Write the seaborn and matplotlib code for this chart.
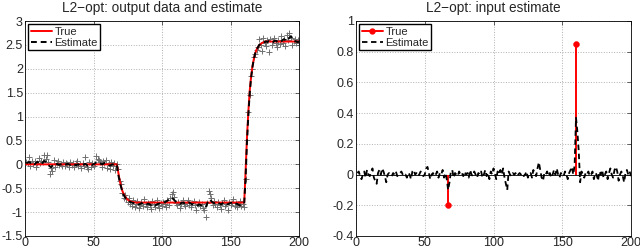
import numpy as np
import pandas as pd
import matplotlib
matplotlib.use("Agg")
import matplotlib.pyplot as plt
from matplotlib.lines import Line2D
import seaborn as sns

# sample index
k = np.arange(1, 201)

# measured output (grey + markers)
y_data = [
    0.05, 0.02, 0.15, -0.03, 0.06, 0.01, 0.08, -0.05, 0.03, 0.14,
    0.02, 0.07, 0.04, 0.19, 0.12, 0.2, 0.05, -0.21, -0.08, -0.14,
    0.1, -0.05, 0.03, 0.08, -0.02, 0.01, -0.04, 0.05, -0.03, 0.02,
    0.0, -0.06, 0.04, -0.02, 0.03, -0.05, 0.02, 0.06, -0.04, 0.0,
    -0.07, 0.03, -0.03, 0.15, -0.05, -0.09, 0.04, -0.06, 0.02, -0.03,
    0.01, 0.18, 0.12, 0.1, 0.05, -0.05, 0.07, 0.02, 0.09, -0.08,
    0.03, -0.1, 0.05, -0.04, 0.02, -0.12, 0.01,
    -0.1, -0.35, -0.42, -0.6, -0.7, -0.65, -0.72, -0.78, -0.7, -0.82, -0.88, -0.75, -0.9,
    -0.83, -0.76, -0.92, -0.85, -0.78, -0.88, -0.72, -0.84, -0.9, -0.8,
    -0.86, -0.93, -0.77, -0.82, -0.89, -0.75, -0.85, -0.91, -0.8, -0.87,
    -0.78, -0.83, -0.9, -0.74, -0.85, -0.7, -0.62, -0.58, -0.68, -0.8,
    -0.86, -0.79, -0.92, -0.84, -0.75, -0.82, -0.88, -0.8, -0.74, -0.85,
    -0.9, -0.81, -0.77, -0.86, -0.95, -0.83, -0.78, -0.88, -0.82, -0.92,
    -0.96, -1.1, -0.8, -0.56, -0.62, -0.7, -0.85, -0.76, -0.82, -0.89,
    -0.78, -0.85, -0.93, -0.8, -0.74, -0.88, -0.83, -0.95, -0.79, -0.86,
    -0.8, -0.72, -0.87, -0.81, -0.9, -0.84, -0.76, -0.88, -0.82,
    -0.9, -0.3, 0.5, 1.1, 1.45, 1.85, 2.0, 2.25, 2.3, 2.4,
    2.45, 2.62, 2.5, 2.38, 2.65, 2.55, 2.48, 2.6, 2.35, 2.62,
    2.5, 2.58, 2.65, 2.55, 2.45, 2.6, 2.52, 2.68, 2.55, 2.62,
    2.48, 2.7, 2.6, 2.75, 2.65, 2.5, 2.58, 2.62, 2.55, 2.6, 2.57,
]

# true output (red)
y_true = ([0.0] * 67
          + [-0.15, -0.32, -0.45, -0.55, -0.62, -0.67, -0.71, -0.74, -0.76,
             -0.775, -0.785, -0.79, -0.795]
          + [-0.8] * 79
          + [-0.8, -0.16, 0.55, 1.09, 1.53, 1.83, 2.05, 2.2, 2.32, 2.4,
             2.45, 2.49, 2.52, 2.54, 2.555, 2.565]
          + [2.57] * 25)

# estimated output (black dashed)
y_est = [
    0.02, 0.04, 0.05, 0.03, 0.05, 0.02, 0.0, 0.03, 0.05, 0.04,
    0.02, 0.0, 0.04, 0.07, 0.06, 0.03, -0.01, -0.04, -0.06, -0.03,
    0.0, 0.02, 0.01, 0.0, -0.01, 0.0, 0.01, 0.0, -0.01, 0.0,
    0.01, 0.0, -0.01, 0.0, 0.01, 0.0, -0.02, -0.01, 0.0, -0.02,
    -0.03, -0.02, 0.0, 0.01, -0.01, -0.03, -0.02, 0.0, -0.01, 0.0,
    0.02, 0.04, 0.05, 0.03, 0.02, 0.0, 0.01, 0.03, 0.02, 0.0,
    -0.02, -0.03, -0.01, 0.0, -0.02, -0.04, -0.02,
    -0.2, -0.35, -0.46, -0.56, -0.64, -0.69, -0.72, -0.75, -0.77, -0.79, -0.8, -0.81, -0.82,
    -0.83, -0.82, -0.84, -0.83, -0.81, -0.82, -0.8, -0.81, -0.83, -0.82,
    -0.84, -0.85, -0.83, -0.84, -0.86, -0.84, -0.83, -0.82, -0.83, -0.81,
    -0.8, -0.79, -0.78, -0.76, -0.74, -0.72, -0.7, -0.72, -0.75, -0.78,
    -0.8, -0.82, -0.83, -0.81, -0.8, -0.81, -0.82, -0.8, -0.79, -0.8,
    -0.82, -0.84, -0.83, -0.85, -0.87, -0.86, -0.84, -0.85, -0.86, -0.88,
    -0.9, -0.89, -0.82, -0.75, -0.74, -0.77, -0.8, -0.81, -0.8, -0.82,
    -0.81, -0.82, -0.84, -0.82, -0.8, -0.81, -0.83, -0.84, -0.82, -0.81,
    -0.8, -0.79, -0.8, -0.82, -0.83, -0.85, -0.86, -0.85, -0.84,
    -0.82, -0.3, 0.45, 1.02, 1.48, 1.8, 2.03, 2.2, 2.32, 2.4,
    2.45, 2.5, 2.52, 2.54, 2.55, 2.56,
    2.57, 2.56, 2.58, 2.57, 2.55, 2.56, 2.58, 2.59, 2.57, 2.56,
    2.55, 2.57, 2.6, 2.62, 2.6, 2.58, 2.62, 2.65, 2.68, 2.65,
    2.6, 2.58, 2.57, 2.56, 2.57,
]

# true input (two impulses)
u_true_k = [67, 160]
u_true = [-0.2, 0.85]

# estimated input
u_est = [
    0.01, 0.02, -0.01, -0.03, 0.0, 0.02, -0.02, 0.03, 0.0, -0.01,
    0.02, 0.04, -0.02, -0.04, -0.06, 0.01, 0.03, 0.0, 0.04, 0.02,
    -0.01, -0.05, 0.0, 0.01, 0.0, -0.01, 0.01, 0.0, 0.02, -0.01,
    0.0, 0.01, 0.02, 0.0, -0.01, 0.0, -0.02, 0.01, 0.0, -0.03,
    0.02, 0.03, 0.0, 0.01, -0.01, 0.0, 0.02, 0.0, -0.01, 0.0,
    0.04, 0.05, 0.01, -0.03, 0.0, 0.01, -0.01, 0.0, 0.02, -0.02,
    0.01, 0.0, 0.03, -0.02, 0.01, -0.03, -0.1, -0.05, 0.02, 0.03,
    -0.02, 0.01, 0.0, -0.01, 0.02, 0.0, 0.01, -0.01, 0.02, 0.0,
    0.01, -0.02, 0.03, 0.0, -0.01, 0.02, 0.0, -0.02, 0.01, 0.0,
    0.02, -0.02, 0.0, 0.03, -0.01, 0.01, -0.03, 0.02, 0.0, 0.04,
    0.01, -0.03, 0.02, 0.0, 0.03, 0.0, 0.04, -0.02, -0.06, -0.1,
    0.02, 0.0, -0.01, 0.01, 0.0, 0.01, -0.01, 0.0, 0.01, 0.0,
    0.01, -0.01, 0.0, 0.02, -0.02, 0.0, 0.01, -0.02, 0.03, 0.0,
    -0.01, 0.04, 0.08, 0.03, -0.02, -0.04, 0.01, 0.0, 0.02, -0.01,
    0.01, -0.02, 0.0, 0.03, 0.0, 0.04, 0.0, -0.02, 0.01, 0.0,
    -0.01, 0.02, 0.0, -0.03, 0.01, 0.03, 0.05, 0.0, 0.06, 0.37,
    0.28, 0.15, -0.05, 0.02, 0.0, -0.02, 0.01, 0.0, 0.02, -0.01,
    0.0, 0.02, -0.03, 0.01, 0.0, -0.04, 0.02, 0.0, 0.03, -0.02,
    0.0, 0.02, -0.03, 0.01, 0.04, 0.0, -0.02, 0.03, 0.05, 0.02,
    -0.04, 0.0, 0.02, -0.01, -0.05, 0.01, 0.03, 0.0, 0.02, -0.01,
]

sns.set_style("white")
plt.rcParams['font.family'] = ['Liberation Sans', 'DejaVu Sans']

df = pd.DataFrame({'k': k, 'data': y_data, 'true': y_true, 'est': y_est, 'u': u_est})

fig = plt.figure(figsize=(6.4, 2.48), dpi=100)
ax1 = fig.add_axes([25 / 640, 12 / 248, 274 / 640, 215 / 248])
ax2 = fig.add_axes([356 / 640, 12 / 248, 275 / 640, 215 / 248])

# left: output data and estimate
sns.scatterplot(data=df, x='k', y='data', ax=ax1, marker='+', color='#707070',
                s=18, linewidth=0.7, zorder=2, legend=False)
sns.lineplot(data=df, x='k', y='true', ax=ax1, color='red', lw=1.4,
             label='True', zorder=3)
sns.lineplot(data=df, x='k', y='est', ax=ax1, color='black', lw=1.4,
             label='Estimate', zorder=4)
ax1.lines[-1].set_dashes((3, 2))
ax1.set_xlim(0, 200)
ax1.set_ylim(-1.5, 3)
ax1.set_yticks(np.arange(-1.5, 3.01, 0.5))
ax1.set_yticklabels(['-1.5', '-1', '-0.5', '0', '0.5', '1', '1.5', '2', '2.5', '3'])
ax1.set_title('L2−opt: output data and estimate', fontsize=9.8, pad=6.5)

# right: input estimate
ax2.axhline(0, color='black', lw=0.6, zorder=1)
ax2.vlines(u_true_k, 0, u_true, color='red', lw=1.4, zorder=3)
sns.scatterplot(x=u_true_k, y=u_true, ax=ax2, color='red', s=18,
                edgecolor='red', zorder=4, legend=False)
sns.lineplot(data=df, x='k', y='u', ax=ax2, color='black', lw=1.3,
             label='Estimate', zorder=5)
ax2.lines[-1].set_dashes((3, 2))
ax2.set_xlim(0, 200)
ax2.set_ylim(-0.4, 1)
ax2.set_yticks(np.arange(-0.4, 1.01, 0.2))
ax2.set_yticklabels(['-0.4', '-0.2', '0', '0.2', '0.4', '0.6', '0.8', '1'])
ax2.set_title('L2−opt: input estimate', fontsize=9.8, pad=6.5)

for ax in (ax1, ax2):
    ax.set_xlabel('')
    ax.set_ylabel('')
    ax.set_xticks([0, 50, 100, 150, 200])
    ax.grid(True, ls=':', color='#b0b0b0', lw=0.7)
    ax.tick_params(direction='in', top=True, right=True, labelsize=9,
                   length=3, width=0.5, pad=1.5)
    ax.tick_params(axis='x', pad=0.5)
    for sp in ax.spines.values():
        sp.set_color('black')
        sp.set_linewidth(0.6)

leg_kw = dict(loc='upper left', fontsize=8, frameon=True, fancybox=False,
              edgecolor='black', framealpha=1, borderaxespad=0.3,
              handlelength=1.9, handletextpad=0.25, borderpad=0.2,
              labelspacing=0.15)

h1, l1 = ax1.get_legend_handles_labels()
ax1.legend(h1, l1, **leg_kw)

h2, l2 = ax2.get_legend_handles_labels()
true_handle = Line2D([0], [0], color='red', lw=1.4, marker='o',
                     markersize=3.5, markevery=[-1])
ax2.legend([true_handle] + h2, ['True'] + l2, **leg_kw)

fig.savefig('out.png', dpi=100)
